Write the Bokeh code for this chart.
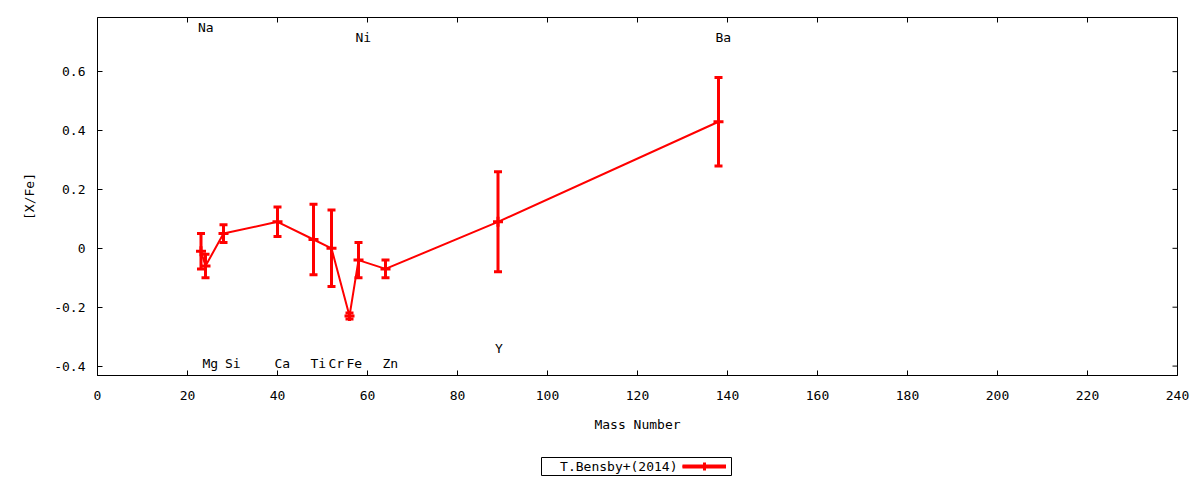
from bokeh.plotting import figure
from bokeh.models import (Range1d, FixedTicker, CustomJSTickFormatter,
                          Legend, LegendItem, Label, BoxAnnotation, ColumnDataSource)
from bokeh.layouts import column
from bokeh.embed import file_html
from bokeh.resources import INLINE
from bokeh.core.properties import value

# ---- data ----
elements = ["Na", "Mg", "Si", "Ca", "Ti", "Cr", "Fe", "Ni", "Zn", "Y", "Ba"]
mass = [23, 24, 28, 40, 48, 52, 56, 58, 64, 89, 138]
xfe = [-0.01, -0.06, 0.05, 0.09, 0.03, 0.00, -0.23, -0.04, -0.07, 0.09, 0.43]
xfe_err = [0.06, 0.04, 0.03, 0.05, 0.12, 0.13, 0.01, 0.06, 0.03, 0.17, 0.15]
label_x = [23, 24, 29, 40, 48, 52, 56, 58, 64, 89, 138]
label_y = [0.75, -0.39, -0.39, -0.39, -0.39, -0.39, -0.39, 0.715, -0.39, -0.34, 0.715]
x_ticks = [0, 20, 40, 60, 80, 100, 120, 140, 160, 180, 200, 220, 240]
y_ticks = [-0.4, -0.2, 0, 0.2, 0.4, 0.6]
series_name = "T.Bensby+(2014)"
x_title = "Mass Number"
y_title = "[X/Fe]"

X_LO, X_HI = 0, 240
Y_LO, Y_HI = -0.432, 0.784
FRAME_W, FRAME_H = 1080, 358
TICK = 5

FONT = "DejaVu Sans Mono"
FS = "13px"
RED = "#ff0000"

lower = [v - e for v, e in zip(xfe, xfe_err)]
upper = [v + e for v, e in zip(xfe, xfe_err)]
src = ColumnDataSource(dict(x=mass, y=xfe, lo=lower, hi=upper))
lab = ColumnDataSource(dict(x=label_x, y=label_y, t=elements))

p = figure(frame_width=FRAME_W, frame_height=FRAME_H,
           x_range=Range1d(X_LO, X_HI), y_range=Range1d(Y_LO, Y_HI),
           min_border_left=97, min_border_right=13, min_border_top=17,
           min_border_bottom=62,
           output_backend="svg", toolbar_location=None)
p.xgrid.visible = False
p.ygrid.visible = False
p.outline_line_color = "black"
p.outline_line_alpha = 1
p.outline_line_width = 1
p.background_fill_color = "white"
p.border_fill_color = "white"

for ax, ticks in ((p.xaxis[0], x_ticks), (p.yaxis[0], y_ticks)):
    ax.ticker = FixedTicker(ticks=ticks)
    ax.major_tick_in = TICK
    ax.major_tick_out = 0
    ax.minor_tick_in = 0
    ax.minor_tick_out = 0
    ax.axis_line_color = "black"
    ax.major_tick_line_color = "black"
    ax.major_label_text_font = FONT
    ax.major_label_text_font_size = FS
    ax.major_label_text_color = "black"
    ax.axis_label_text_font = FONT
    ax.axis_label_text_font_size = FS
    ax.axis_label_text_font_style = "normal"
    ax.axis_label_text_color = "black"

xa = p.xaxis[0]
xa.major_label_standoff = 15
xa.axis_label = x_title
xa.axis_label_standoff = 14

ya = p.yaxis[0]
ya.major_label_standoff = 12
ya.formatter = CustomJSTickFormatter(code="return Math.abs(tick) < 1e-9 ? '0' : tick.toFixed(1);")
ya.axis_label = y_title
ya.axis_label_standoff = 14

# mirrored inward ticks on top and right edges (gnuplot style)
ty = TICK * (Y_HI - Y_LO) / FRAME_H
tx = TICK * (X_HI - X_LO) / FRAME_W
p.segment(x0=x_ticks, y0=[Y_HI] * len(x_ticks), x1=x_ticks, y1=[Y_HI - ty] * len(x_ticks),
          line_color="black", line_width=1)
p.segment(x0=[X_HI] * len(y_ticks), y0=y_ticks, x1=[X_HI - tx] * len(y_ticks), y1=y_ticks,
          line_color="black", line_width=1)

# ---- data glyphs ----
p.line("x", "y", source=src, line_color=RED, line_width=2)
p.segment("x", "lo", "x", "hi", source=src, line_color=RED, line_width=3)
p.scatter("x", "lo", source=src, marker="dash", size=8, line_color=RED, line_width=3)
p.scatter("x", "hi", source=src, marker="dash", size=8, line_color=RED, line_width=3)
p.scatter("x", "y", source=src, marker="cross", size=10, line_color=RED, line_width=3)

p.text("x", "y", text="t", source=lab, text_font=value(FONT), text_font_size=FS,
       text_align="left", text_baseline="middle", text_color="black", x_offset=-3)

# ---- legend strip below the plot (frame aligned with the main plot): text left, sample right ----
p2 = figure(width=1190, height=43, x_range=Range1d(0, 1), y_range=Range1d(0, 1),
            x_axis_type=None, y_axis_type=None,
            min_border_left=97, min_border_right=13, min_border_top=0, min_border_bottom=0,
            output_backend="svg", toolbar_location=None)
p2.xgrid.visible = False
p2.ygrid.visible = False
p2.outline_line_color = None
p2.background_fill_color = "white"
p2.border_fill_color = "white"

# legend-only renderers (their single point lies outside the strip's visible range)
dummy = ColumnDataSource(dict(x=[-1.0], y=[-1.0], lo=[-1.0], hi=[-1.0]))
l_line = p2.line("x", "y", source=dummy, line_color=RED, line_width=2)
l_seg = p2.segment("x", "lo", "x", "hi", source=dummy, line_color=RED, line_width=4)
l_pt = p2.scatter("x", "y", source=dummy, marker="cross", size=10, line_color=RED, line_width=3)

p2.add_layout(BoxAnnotation(left=444, right=634, top=23, bottom=5,
                            left_units="screen", right_units="screen",
                            top_units="screen", bottom_units="screen",
                            fill_color="white", fill_alpha=1.0,
                            line_color="black", line_width=1, line_alpha=1.0))
p2.add_layout(Label(x=580, y=14, x_units="screen", y_units="screen",
                    text=series_name, text_font=FONT, text_font_size=FS,
                    text_align="right", text_baseline="middle", text_color="black"))
leg = Legend(items=[LegendItem(label=" ", renderers=[l_line, l_seg, l_pt])],
             location=(585, 4), glyph_width=44, glyph_height=20,
             padding=0, margin=0, spacing=0, label_standoff=0,
             border_line_color=None, background_fill_alpha=0,
             label_text_font=FONT, label_text_font_size="4px")
p2.add_layout(leg, "center")

layout = column(p, p2, spacing=0)
open("out.html", "w").write(file_html(layout, INLINE))
